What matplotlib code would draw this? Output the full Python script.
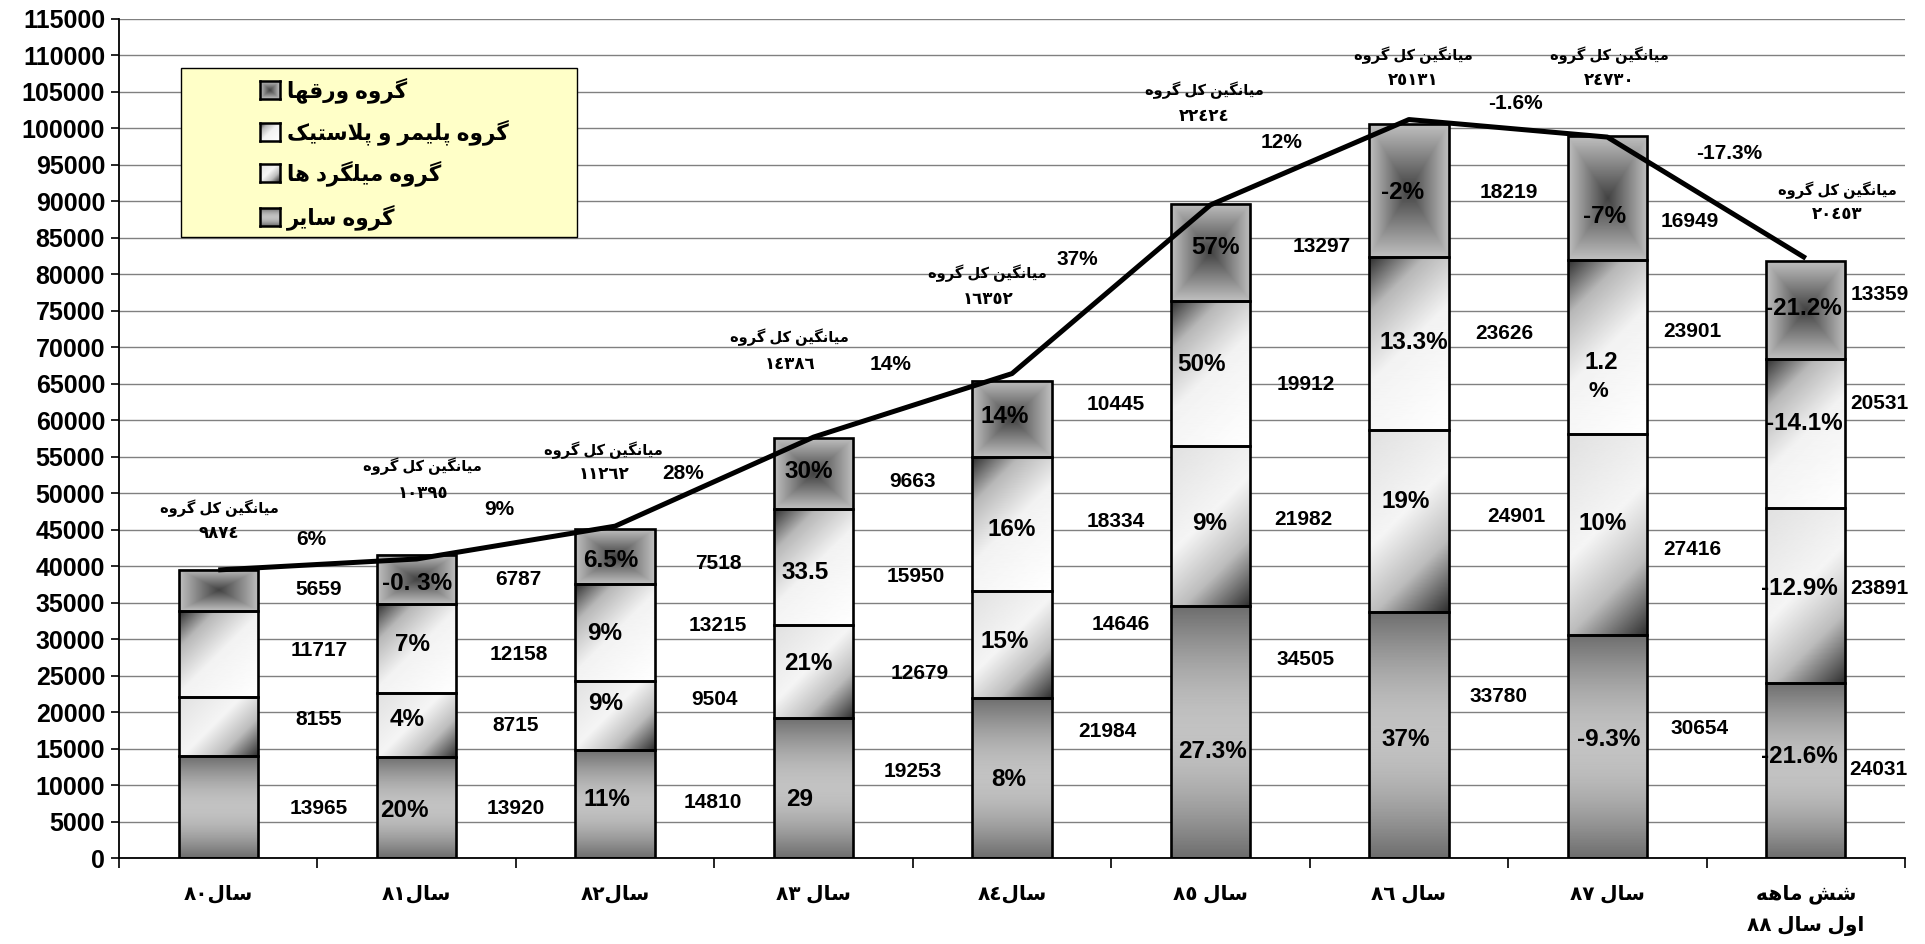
import re
import numpy as np
import matplotlib
matplotlib.use('Agg')
import matplotlib.pyplot as plt
from matplotlib.patches import Rectangle

plt.rcParams['font.family'] = ['Liberation Sans', 'DejaVu Sans']
plt.rcParams['font.weight'] = 'bold'

# ---------------- data ----------------
categories = ['سال٨٠', 'سال٨١', 'سال٨٢', 'سال ٨٣', 'سال٨٤', 'سال ٨٥', 'سال ٨٦', 'سال ٨٧',
              'شش ماهه\nاول سال ٨٨']
series_names = ['گروه سایر', 'گروه میلگرد ها', 'گروه پلیمر و پلاستیک', 'گروه ورقها']
others = [13965, 13920, 14810, 19253, 21984, 34505, 33780, 30654, 24031]
rebar = [8155, 8715, 9504, 12679, 14646, 21982, 24901, 27416, 23891]
polymer = [11717, 12158, 13215, 15950, 18334, 19912, 23626, 23901, 20531]
sheets = [5659, 6787, 7518, 9663, 10445, 13297, 18219, 16949, 13359]
trend = [39500, 41000, 45500, 57700, 66400, 89500, 101200, 98800, 82200]
avg_title = 'میانگین کل گروه'
avg_values = ['٩٨٧٤', '١٠٣٩٥', '١١٢٦٢', '١٤٣٨٦', '١٦٣٥٢', '٢٢٤٢٤', '٢٥١٣١', '٢٤٧٣٠', '٢٠٤٥٣']
growth = ['6%', '9%', '28%', '14%', '37%', '12%', '-1.6%', '-17.3%']
others_pct = ['', '20%', '11%', '29', '8%', '27.3%', '37%', '-9.3%', '-21.6%']
rebar_pct = ['', '4%', '9%', '21%', '15%', '9%', '19%', '10%', '-12.9%']
polymer_pct = ['', '7%', '9%', '33.5', '16%', '50%', '13.3%', '1.2', '-14.1%']
sheets_pct = ['', '-0. 3%', '6.5%', '30%', '14%', '57%', '-2%', '-7%', '-21.2%']
yticks = list(range(0, 115001, 5000))

# ---------------- label placement (layout only) ----------------
val_pos = {  # per series: list of (x, y) for value labels right of bars
    'others': [(0.508, 6850), (1.50, 6850), (2.49, 7620), (3.50, 11860), (4.48, 17340),
               (5.48, 27170), (6.45, 22230), (7.463, 17810), (8.365, 12100)],
    'rebar': [(0.508, 18950), (1.50, 18260), (2.503, 21690), (3.535, 25340), (4.548, 31960),
              (5.47, 46350), (6.543, 46800), (7.427, 42330), (8.372, 36990)],
    'polymer': [(0.508, 28440), (1.515, 27850), (2.518, 31870), (3.513, 38670), (4.525, 46110),
                (5.48, 64840), (6.482, 71920), (7.427, 72140), (8.372, 62330)],
    'sheets': [(0.508, 36760), (1.515, 38220), (2.518, 40320), (3.50, 51600), (4.525, 62100),
               (5.56, 83790), (6.503, 91190), (7.417, 87210), (8.372, 77170)],
}
pct_pos = {
    'others': [None, (0.936, 6520), (1.958, 8080), (2.93, 7990), (3.984, 10730),
               (5.009, 14600), (5.982, 16300), (7.006, 16300), (7.969, 14010)],
    'rebar': [None, (0.951, 18950), (1.953, 21230), (2.976, 26710), (3.963, 29670),
              (4.995, 45890), (5.982, 48850), (6.979, 45890), (7.969, 36990)],
    'polymer': [None, (0.981, 29220), (1.948, 30820), (2.955, 39130), (3.997, 45070),
                (4.955, 67580), (6.024, 70690), (6.971, 67900), (7.994, 59590)],
    'sheets': [None, (1.001, 37580), (1.979, 40860), (2.976, 52960), (3.963, 60500),
               (5.026, 83700), (5.968, 91190), (6.986, 87890), (7.989, 75350)],
}
avg_pos = [(0.004, 47990, 44430), (1.03, 53650, 50000), (1.943, 55840, 52510),
           (2.88, 71400, 67580), (3.878, 80140, 76490), (4.97, 105250, 101600),
           (6.024, 110050, 106490), (7.01, 110050, 106490), (8.16, 91560, 88220)]
growth_pos = [(0.467, 43700), (1.414, 47810), (2.341, 52740), (3.389, 67580), (4.331, 82060),
              (5.359, 98040), (6.538, 103340), (7.614, 96580)]

# ---------------- Persian shaping (presentation forms + RTL order) ----------------
AR_FORMS = {
    '\u0627': ('\uFE8D', '\uFE8E', None, None),
    '\u0628': ('\uFE8F', '\uFE90', '\uFE91', '\uFE92'),
    '\u067E': ('\uFB56', '\uFB57', '\uFB58', '\uFB59'),
    '\u062A': ('\uFE95', '\uFE96', '\uFE97', '\uFE98'),
    '\u062F': ('\uFEA9', '\uFEAA', None, None),
    '\u0631': ('\uFEAD', '\uFEAE', None, None),
    '\u0633': ('\uFEB1', '\uFEB2', '\uFEB3', '\uFEB4'),
    '\u0634': ('\uFEB5', '\uFEB6', '\uFEB7', '\uFEB8'),
    '\u0642': ('\uFED5', '\uFED6', '\uFED7', '\uFED8'),
    '\u06A9': ('\uFB8E', '\uFB8F', '\uFB90', '\uFB91'),
    '\u06AF': ('\uFB92', '\uFB93', '\uFB94', '\uFB95'),
    '\u0644': ('\uFEDD', '\uFEDE', '\uFEDF', '\uFEE0'),
    '\u0645': ('\uFEE1', '\uFEE2', '\uFEE3', '\uFEE4'),
    '\u0646': ('\uFEE5', '\uFEE6', '\uFEE7', '\uFEE8'),
    '\u0647': ('\uFEE9', '\uFEEA', '\uFEEB', '\uFEEC'),
    '\u0648': ('\uFEED', '\uFEEE', None, None),
    '\u06CC': ('\uFBFC', '\uFBFD', '\uFBFE', '\uFBFF'),
}


def _joins_next(c):
    return c in AR_FORMS and AR_FORMS[c][2] is not None


def _shape(s):
    res, i, n = [], 0, len(s)
    while i < n:
        c = s[i]
        if c in AR_FORMS:
            jp = i > 0 and _joins_next(s[i - 1])
            if c == '\u0644' and i + 1 < n and s[i + 1] == '\u0627':
                res.append('\uFEFC' if jp else '\uFEFB')
                i += 2
                continue
            jn = _joins_next(c) and i + 1 < n and s[i + 1] in AR_FORMS
            iso, fin, ini, med = AR_FORMS[c]
            res.append(med if (jp and jn) else fin if jp else ini if jn else iso)
        else:
            res.append(c)
        i += 1
    return ''.join(res)


def fa(s):
    lines = []
    for line in s.split('\n'):
        sh = _shape(line)
        runs = re.findall(r'[0-9\u0660-\u0669]+|[^0-9\u0660-\u0669]+', sh)
        lines.append(''.join(r if r[0].isdigit() else r[::-1] for r in reversed(runs)))
    return '\n'.join(lines)


# ---------------- gradients ----------------
def grad_img(kind, wpx, hpx, n=160):
    u = np.linspace(0, 1, n)[None, :] * np.ones((n, 1))
    v = np.linspace(0, 1, n)[:, None] * np.ones((1, n))
    if kind == 'vertical':
        g = 0.43 + 0.33 * np.sin(np.pi * v)
    elif kind == 'center':
        t = np.maximum(np.abs(2 * u - 1), np.abs(2 * v - 1))
        g = 0.26 + 0.49 * t
    else:
        s = (u * wpx + v * hpx) / (wpx + hpx)
        if kind == 'diag_dark':
            g = np.interp(s, [0, 0.22, 0.5, 1], [0.18, 0.72, 0.95, 1.0])
        else:
            g = np.interp(s, [0, 0.45, 0.72, 1], [0.88, 0.96, 0.74, 0.18])
    return g


fig = plt.figure(figsize=(19.25, 9.44), dpi=100)
ax = fig.add_axes([119 / 1925, 1 - 858.3 / 944, 1786 / 1925, 839.5 / 944])
ax.set_xlim(-0.5, len(categories) - 0.5)
ax.set_ylim(0, 115000)

x = np.arange(len(categories))
bw = 0.4
series = [others, rebar, polymer, sheets]
kinds = ['vertical', 'diag_light', 'diag_dark', 'center']
px_per_x = ax.transData.transform((1, 0))[0] - ax.transData.transform((0, 0))[0]
px_per_y = ax.transData.transform((0, 1000))[1] - ax.transData.transform((0, 0))[1]
bottom = np.zeros(len(x))
for vals, kind in zip(series, kinds):
    bars = ax.bar(x, vals, bw, bottom=bottom, facecolor='none', edgecolor='black',
                  linewidth=1.9, zorder=3)
    for rect in bars:
        x0, y0 = rect.get_x(), rect.get_y()
        w, h = rect.get_width(), rect.get_height()
        img = grad_img(kind, w * px_per_x, h / 1000 * px_per_y)
        ax.imshow(img, extent=[x0, x0 + w, y0, y0 + h], cmap='gray', vmin=0, vmax=1,
                  aspect='auto', origin='upper', interpolation='bilinear', zorder=2)
    bottom = bottom + np.array(vals)

ax.plot(x, trend, color='black', lw=3.6, zorder=4, solid_capstyle='butt')

ax.set_xlim(-0.5, len(categories) - 0.5)
ax.set_ylim(0, 115000)
ax.set_aspect('auto')

# axes styling
ax.set_axisbelow(True)
ax.yaxis.grid(True, color='#808080', lw=1.0)
ax.set_yticks(yticks)
ax.set_yticklabels([str(t) for t in yticks])
ax.tick_params(axis='y', length=6, width=1.2, pad=4, labelsize=18)
ax.set_xticks(np.arange(-0.5, len(categories), 1))
ax.set_xticklabels([])
ax.set_xticks(x, minor=True)
ax.set_xticklabels([fa(c) for c in categories], minor=True)
ax.tick_params(axis='x', which='major', length=7, width=1.2)
ax.tick_params(axis='x', which='minor', length=0, pad=19, labelsize=14.5)
for lab in ax.get_xticklabels(minor=True):
    lab.set_linespacing(1.75)
for sp in ['top', 'right']:
    ax.spines[sp].set_visible(False)
for sp in ['left', 'bottom']:
    ax.spines[sp].set_linewidth(1.3)

# value labels
for key, vals in zip(['others', 'rebar', 'polymer', 'sheets'], series):
    for v, (px, py) in zip(vals, val_pos[key]):
        ax.text(px, py, str(v), ha='center', va='center', fontsize=15, zorder=6)

# percentage labels inside bars
for key, labs in zip(['others', 'rebar', 'polymer', 'sheets'],
                     [others_pct, rebar_pct, polymer_pct, sheets_pct]):
    for lab, pos in zip(labs, pct_pos[key]):
        if pos is None or not lab:
            continue
        ax.text(pos[0], pos[1], lab, ha='center', va='center', fontsize=17.5, zorder=6)
# wrapped "%" under "1.2" (cut off in the original)
clip = Rectangle((6.7, 63760), 0.6, 5000, transform=ax.transData, visible=False)
ax.add_patch(clip)
t = ax.text(6.955, 63900, '%', ha='center', va='center', fontsize=16, zorder=6)
t.set_clip_path(clip)

# average annotations
for (px, ty, vy), num in zip(avg_pos, avg_values):
    ax.text(px, ty, fa(avg_title), ha='center', va='center', fontsize=10.5, zorder=6)
    ax.text(px, vy, fa(num), ha='center', va='center', fontsize=12, zorder=6)

# growth labels
for g, (px, py) in zip(growth, growth_pos):
    ax.text(px, py, g, ha='center', va='center', fontsize=15, zorder=6)

# legend (drawn manually, as in the original)
ax.add_patch(Rectangle((0.0347, 0.7401), 0.2218, 0.2013, transform=ax.transAxes,
                       facecolor='#FFFFC8', edgecolor='black', lw=1.0, zorder=7))
leg_rows = [0.9152, 0.8655, 0.8160, 0.7643]
leg_items = [(series_names[3], 'center'), (series_names[2], 'diag_dark'),
             (series_names[1], 'diag_light'), (series_names[0], 'vertical')]
for yy, (name, kind) in zip(leg_rows, leg_items):
    mh, mw = 0.0214, 0.0107
    iax = ax.inset_axes([0.0792, yy - mh / 2, mw, mh], zorder=8)
    iax.imshow(grad_img(kind, 19, 18, n=40), cmap='gray', vmin=0, vmax=1, aspect='auto',
               interpolation='bilinear')
    iax.set_xticks([])
    iax.set_yticks([])
    for sp in iax.spines.values():
        sp.set_linewidth(1.8)
    ax.text(0.0941, yy, fa(name), transform=ax.transAxes, ha='left', va='center',
            fontsize=15.5, zorder=9)

fig.savefig('out.png', dpi=100)
